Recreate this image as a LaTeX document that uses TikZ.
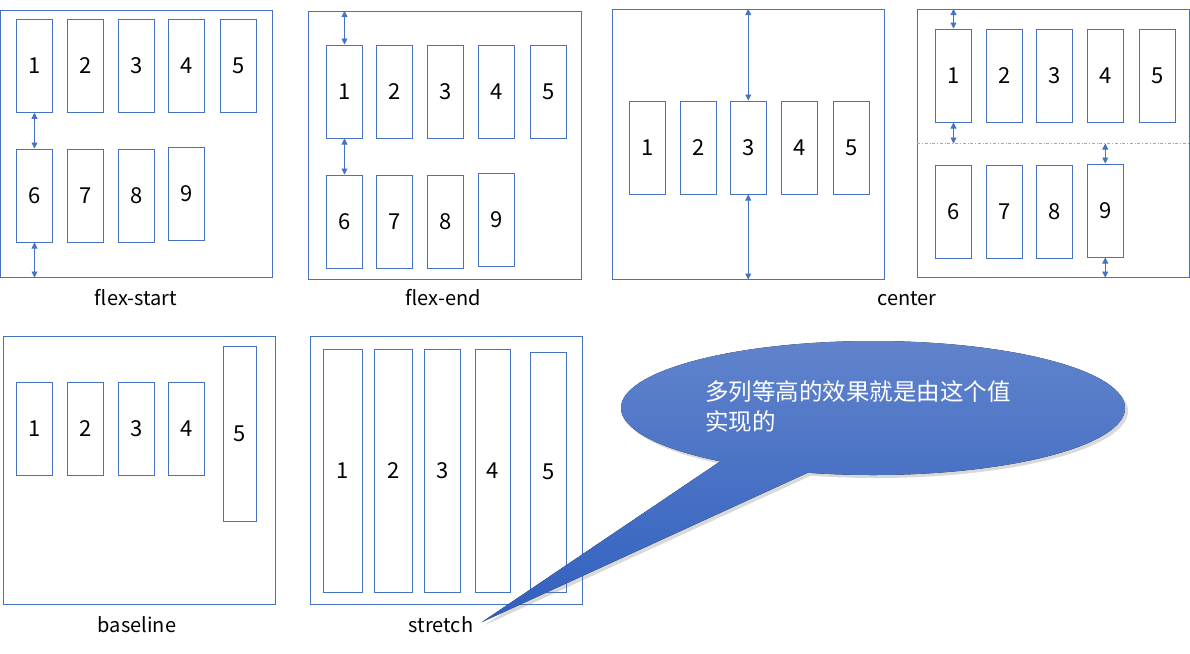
\documentclass[tikz,border=0pt]{standalone}
\usepackage{fontspec}
\setmainfont{Noto Sans CJK SC}
\usetikzlibrary{
  arrows.meta,
  positioning,
  calc,
  shadows
}
\definecolor{boxblue}{RGB}{68,114,196}
\definecolor{bubbletop}{RGB}{98,132,204}
\definecolor{bubblebot}{RGB}{48,96,190}
\tikzset{
  panel/.style={
    draw=boxblue,
    line width=1pt,
    inner sep=0pt,
    minimum width=272pt,
    minimum height=267pt
  },
  item/.style={
    draw=boxblue,
    line width=1pt,
    inner sep=0pt,
    minimum width=36.5pt,
    minimum height=93pt,
    font=\fontsize{22}{24}\selectfont
  },
  caption/.style={anchor=base,font=\fontsize{20}{24}\selectfont},
  gaparrow/.style={{Triangle[length=6pt,width=6pt]}-{Triangle[length=6pt,width=6pt]},draw=boxblue,line width=0.8pt},
  rowline/.style={draw=boxblue!60,line width=0.6pt,dash dot},
  bubble/.style={
    top color=bubbletop,
    bottom color=bubblebot,
    drop shadow={opacity=0.3,shadow xshift=3pt,shadow yshift=-3pt}
  },
  note/.style={anchor=north west,align=left,inner sep=0pt,text=white,font=\fontsize{23.5}{30}\selectfont}
}

\begin{document}
\begin{tikzpicture}[x=1pt,y=-1pt]
  \useasboundingbox (0,0) rectangle (1190,653);

  % flex-start
  \node[panel] (pstart) at (136.25,143.5) {};
  \foreach \n/\x in {1/34.5,2/85.25,3/136.25,4/186.25,5/238.25}
    \node[item] (s\n) at (\x,65.75) {\n};
  \foreach \n/\x/\y in {6/34.5/195.5,7/85.25/195.5,8/136.25/195.5,9/186.25/194}
    \node[item] (s\n) at (\x,\y) {\n};
  \draw[gaparrow] (s1.south) -- (s6.north);
  \draw[gaparrow] (s6.south) -- (s6.south |- pstart.south);
  \node[caption] (lstart) at (136,305.5) {flex-start};

  % flex-end
  \node[panel,minimum width=273pt,minimum height=267.5pt] (pend) at (444.5,145.25) {};
  \foreach \n/\x in {1/344.5,2/394.25,3/445.25,4/496.25,5/548.25}
    \node[item] (e\n) at (\x,91.5) {\n};
  \foreach \n/\x/\y in {6/344.5/221.5,7/394.25/221.5,8/445.25/221.5,9/496.25/220}
    \node[item] (e\n) at (\x,\y) {\n};
  \draw[gaparrow] (e1.north |- pend.north) -- (e1.north);
  \draw[gaparrow] (e1.south) -- (e6.north);
  \node[caption] (lend) at (443,305) {flex-end};

  % center, one row
  \node[panel,minimum height=269.5pt] (pcenter) at (748,144.25) {};
  \foreach \n/\x in {1/647.25,2/698.25,3/748.25,4/799.25,5/851.25}
    \node[item] (c\n) at (\x,147.5) {\n};
  \draw[gaparrow] (c3.north |- pcenter.north) -- (c3.north);
  \draw[gaparrow] (c3.south) -- (c3.south |- pcenter.south);

  % center, two rows
  \node[panel,minimum height=267.5pt] (pwrap) at (1053,143.25) {};
  \foreach \n/\x in {1/953.5,2/1004.25,3/1054.25,4/1105.25,5/1157.25}
    \node[item] (w\n) at (\x,75.5) {\n};
  \foreach \n/\x/\y in {6/953.5/212,7/1004.25/212,8/1054.25/212,9/1105.25/210.5}
    \node[item] (w\n) at (\x,\y) {\n};
  \coordinate (midw) at (917,143.5);
  \coordinate (mide) at (1189,143.5);
  \draw[rowline] (midw) -- (mide);
  \draw[gaparrow] (w1.north |- pwrap.north) -- (w1.north);
  \draw[gaparrow] (w1.south) -- (w1.south |- midw);
  \draw[gaparrow] (w9.north |- midw) -- (w9.north);
  \draw[gaparrow] (w9.south) -- (w9.south |- pwrap.south);
  \node[caption] (lcenter) at (907,305) {center};

  % baseline
  \node[panel,minimum width=272.5pt,minimum height=268pt] (pbase) at (139.25,470) {};
  \foreach \n/\x in {1/34.5,2/85.25,3/136.25,4/186.25}
    \node[item] (l\n) at (\x,428.5) {\n};
  \node[item,minimum width=33.5pt,minimum height=175pt] (l5) at (239.75,433.5) {5};
  \node[caption] (lbase) at (137,632) {baseline};

  % stretch
  \node[panel,minimum width=272.5pt,minimum height=268pt] (pstretch) at (446.25,470) {};
  \foreach \n/\x/\w in {1/342.75/39.5,2/393.25/38.5,3/442.25/36.5,4/492.75/35.5}
    \node[item,minimum width=\w pt,minimum height=243pt] (t\n) at (\x,470.5) {\n};
  \node[item,minimum height=240pt] (t5) at (548.25,472) {5};
  \node[caption] (lstretch) at (441,632) {stretch};

  % callout
  \coordinate (bc) at (873,408);
  \coordinate (tip) at (482,622);
  \fill[bubble] (tip) -- ($(bc)+(127.3:252 and 67)$)
    arc[start angle=127.3,end angle=465,x radius=252,y radius=67] -- cycle;
  \node[note] (note) at (705,380) {多列等高的效果就是由这个值\\实现的};
\end{tikzpicture}
\end{document}
